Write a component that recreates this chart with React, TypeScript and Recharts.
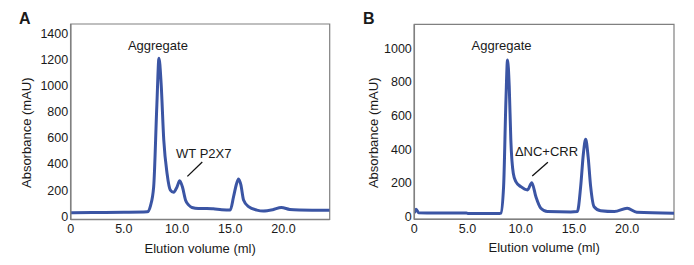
import React from 'react';
import { LineChart, Line, XAxis, YAxis, ReferenceArea, ReferenceLine, ReferenceDot } from 'recharts';

// Panel A – WT P2X7 elution profile
const volumeA = [0, 2, 5, 7.2, 7.5, 7.8, 8.1, 8.3, 8.5, 8.75, 9.06, 9.37, 9.68, 10.0, 10.25, 10.5, 10.8, 11.1, 11.4, 12.0, 12.8, 13.4, 14.2, 15.0, 15.31, 15.56, 15.78, 16.0, 16.25, 16.72, 17.5, 18.1, 19.0, 19.8, 20.6, 21.5, 24.35];
const absA = [27, 28, 30, 34, 80, 225, 850, 1208, 1017, 583, 327, 200, 183, 225, 272, 225, 123, 85, 67, 60, 60, 57, 50, 47, 149, 239, 285, 239, 124, 73, 47, 40, 50, 67, 52, 48, 45];

// Panel B – ΔNC+CRR elution profile
const volumeB = [0, 0.17, 0.4, 2, 4.9, 5.1, 8.0, 8.13, 8.39, 8.61, 8.76, 8.92, 9.07, 9.3, 9.54, 10.01, 10.64, 11.04, 11.42, 11.89, 12.51, 14.7, 15.32, 15.63, 15.89, 16.1, 16.33, 16.57, 16.89, 17.51, 18.8, 20.0, 20.9, 24.4];
const absB = [20, 43, 22, 20, 20, 17, 17, 19, 177, 693, 930, 772, 455, 257, 207, 177, 158, 201, 118, 49, 29, 27, 29, 177, 376, 459, 356, 177, 58, 34, 29, 49, 25, 19];

const xTicks = [0, 5, 10, 15, 20];
const yTicksA = [0, 200, 400, 600, 800, 1000, 1200, 1400];
const yTicksB = [0, 200, 400, 600, 800, 1000];

const toRows = (v: number[], a: number[]) => v.map((x, i) => ({ vol: x, abs: a[i] }));

const BLUE = '#3b55a4';
const GREY = '#808080';
const INK = '#1a1a1a';

const fmtX = (v: number) => (v === 0 ? '0' : v.toFixed(1));

interface PanelProps {
  rows: { vol: number; abs: number }[];
  xMax: number;
  yDomain: [number, number];
  yTicks: number[];
  margin: { top: number; right: number; bottom: number; left: number };
  yAxisWidth: number;
  peakLabel: string;
  aggPos: { x: number; y: number };
  peakPos: { x: number; y: number };
  pointer: { x: number; y: number }[];
}

const Panel: React.FC<PanelProps> = ({ rows, xMax, yDomain, yTicks, margin, yAxisWidth, peakLabel, aggPos, peakPos, pointer }) => (
  <LineChart width={347} height={265} data={rows} margin={margin}>
    <XAxis
      dataKey="vol"
      type="number"
      domain={[0, xMax]}
      ticks={xTicks}
      tickFormatter={fmtX}
      height={36}
      tickLine={false}
      tickSize={0}
      tickMargin={5}
      axisLine={{ stroke: GREY, strokeWidth: 1.5 }}
      tick={{ fill: INK, fontSize: 12.5 }}
      allowDataOverflow
      label={{ value: 'Elution volume (ml)', position: 'insideBottom', offset: 3, fill: INK, fontSize: 13 }}
    />
    <YAxis
      dataKey="abs"
      type="number"
      domain={yDomain}
      ticks={yTicks}
      width={yAxisWidth}
      tickLine={false}
      tickSize={0}
      tickMargin={2.5}
      axisLine={{ stroke: GREY, strokeWidth: 1.5 }}
      tick={{ fill: INK, fontSize: 12.5 }}
      allowDataOverflow
      label={{
        value: 'Absorbance (mAU)',
        angle: -90,
        position: 'insideLeft',
        offset: 26,
        dy: 11,
        fill: INK,
        fontSize: 13,
        style: { textAnchor: 'middle' },
      }}
    />
    <ReferenceArea x1={0} x2={xMax} y1={yDomain[0]} y2={yDomain[1]} fill="none" stroke={GREY} strokeWidth={1.2} fillOpacity={0} />
    <Line
      dataKey="abs"
      type="monotone"
      stroke={BLUE}
      strokeWidth={3}
      dot={false}
      activeDot={false}
      isAnimationActive={false}
    />
    <ReferenceDot x={aggPos.x} y={aggPos.y} r={0} fill="none" stroke="none" label={{ value: 'Aggregate', position: 'center', fill: INK, fontSize: 13 }} />
    <ReferenceDot x={peakPos.x} y={peakPos.y} r={0} fill="none" stroke="none" label={{ value: peakLabel, position: 'center', fill: INK, fontSize: 13 }} />
    <ReferenceLine segment={pointer} stroke="#111" strokeWidth={1.3} />
  </LineChart>
);

const letter: React.CSSProperties = {
  position: 'absolute',
  top: 11,
  fontSize: 16,
  lineHeight: '16px',
  fontWeight: 'bold',
  color: INK,
};

export default function App() {
  return (
    <div style={{ position: 'absolute', left: 0, top: 0, width: 694, height: 265, background: '#fff', fontFamily: '"Liberation Sans", Arial, sans-serif' }}>
      <div style={{ position: 'absolute', left: 0, top: 0 }}>
        <Panel
          rows={toRows(volumeA, absA)}
          xMax={24.35}
          yDomain={[-25, 1470]}
          yTicks={yTicksA}
          margin={{ top: 24, right: 17.3, bottom: 9.5, left: 0 }}
          yAxisWidth={70.7}
          peakLabel="WT P2X7"
          aggPos={{ x: 8.2, y: 1310 }}
          peakPos={{ x: 12.51, y: 480 }}
          pointer={[{ x: 12.37, y: 415 }, { x: 10.97, y: 305 }]}
        />
      </div>
      <div style={{ position: 'absolute', left: 347, top: 0 }}>
        <Panel
          rows={toRows(volumeB, absB)}
          xMax={24.4}
          yDomain={[-17, 1143]}
          yTicks={yTicksB}
          margin={{ top: 24.3, right: 20, bottom: 9.7, left: 0 }}
          yAxisWidth={67.3}
          peakLabel="ΔNC+CRR"
          aggPos={{ x: 8.2, y: 1020 }}
          peakPos={{ x: 12.42, y: 385 }}
          pointer={[{ x: 12.55, y: 322 }, { x: 11.08, y: 240 }]}
        />
      </div>
      <div style={{ ...letter, left: 19 }}>A</div>
      <div style={{ ...letter, left: 363 }}>B</div>
    </div>
  );
}
